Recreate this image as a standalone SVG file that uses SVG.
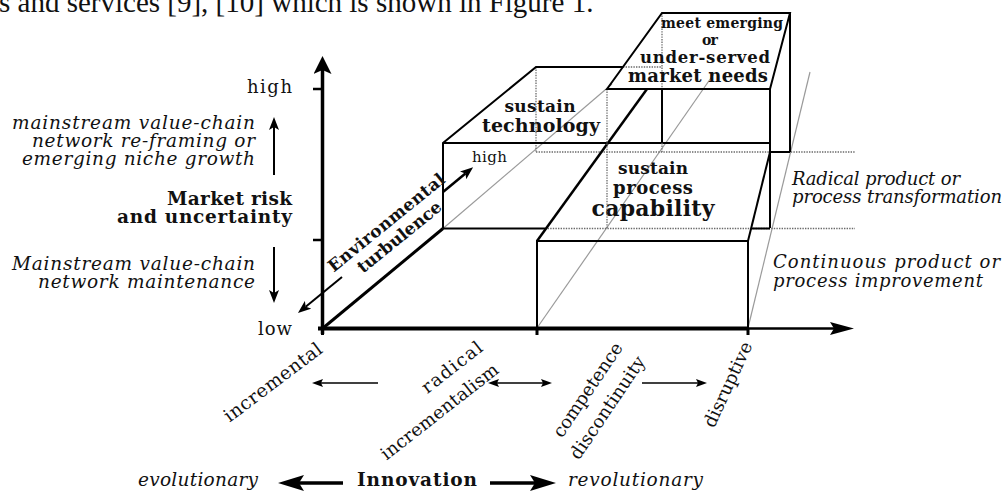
<svg xmlns="http://www.w3.org/2000/svg" width="1005" height="492" viewBox="0 0 1005 492">
<defs>
<style>
.t{font-family:"DejaVu Serif","Liberation Serif",serif;fill:#111}
.i{font-style:italic}
.b{font-weight:bold}
.ln{stroke:#000;fill:none;stroke-width:2}
.bd{stroke:#000;fill:none;stroke-width:2.5}
.dot{stroke:#6a6a6a;fill:none;stroke-width:1.3;stroke-dasharray:1.4 1.2}
.thin{stroke:#9a9a9a;fill:none;stroke-width:1.2}
.ar{stroke:#000;fill:none}
</style>
<marker id="mAxV" markerUnits="userSpaceOnUse" markerWidth="18" markerHeight="18" viewBox="0 0 18 18" refX="4" refY="9" orient="auto"><path d="M0,0 L18,9 L0,18 L4,9 z" fill="#000"/></marker>
<marker id="mAxH" markerUnits="userSpaceOnUse" markerWidth="24" markerHeight="13" viewBox="0 0 24 13" refX="4" refY="6.5" orient="auto"><path d="M0,0 L24,6.5 L0,13 L4,6.5 z" fill="#000"/></marker>
<marker id="mSm" markerUnits="userSpaceOnUse" markerWidth="13" markerHeight="10" viewBox="0 0 13 10" refX="3" refY="5" orient="auto"><path d="M0,0 L13,5 L0,10 L3,5 z" fill="#000"/></marker>
<marker id="mTh" markerUnits="userSpaceOnUse" markerWidth="11" markerHeight="8" viewBox="0 0 11 8" refX="2" refY="4" orient="auto-start-reverse"><path d="M0,0 L11,4 L0,8 L2,4 z" fill="#000"/></marker>
<marker id="mBig" markerUnits="userSpaceOnUse" markerWidth="26" markerHeight="16" viewBox="0 0 26 16" refX="5" refY="8" orient="auto"><path d="M0,0 L26,8 L0,16 L5,8 z" fill="#000"/></marker>
</defs>

<text x="-1" y="12" font-family="Liberation Serif, serif" font-size="29" fill="#111">s and services [9], [10] which is shown in Figure 1.</text>

<g id="perspective-lines">
<path class="thin" d="M443,228.5 L612,84"/>
<path class="thin" d="M537,328 L713,75"/>
<path class="thin" d="M748,328 L810,72"/>
</g>

<g id="box-sustain-technology">
<path class="dot" d="M536,67 V152 M623,67 H662"/>
<path class="ln" d="M443,228.5 V143 L536,67 H623"/>
<path class="ln" d="M443,228.5 H545"/>
<path class="ln" d="M443,143 H770"/>
<text class="t b" x="540" y="112" font-size="17" text-anchor="middle" textLength="71" lengthAdjust="spacing">sustain</text>
<text class="t b" x="541" y="132" font-size="19" text-anchor="middle" textLength="118" lengthAdjust="spacing">technology</text>
</g>

<g id="box-sustain-process">
<path class="dot" d="M536,152 H855 M545,228.5 H855"/>
<path class="ln" d="M537,328 V241 H748 V328"/>
<path class="bd" d="M537,241 L647,89"/>
<path class="ln" d="M748,241 L770,152"/>
<path class="ln" d="M751,228.5 H770"/>
<text class="t b" x="653" y="174" font-size="17" text-anchor="middle" textLength="70" lengthAdjust="spacing">sustain</text>
<text class="t b" x="653" y="194" font-size="18" text-anchor="middle" textLength="80" lengthAdjust="spacing">process</text>
<text class="t b" x="653" y="216" font-size="22" text-anchor="middle" textLength="123" lengthAdjust="spacing">capability</text>
</g>

<g id="box-market-needs">
<path class="dot" d="M662,13 V89 M662,143 V152 M607,89 V228"/>
<path class="ln" d="M607,89 L662,13 H790 L770,89 Z"/>
<path class="ln" d="M770,89 V228 M790,13 V152 M770,152 H790 M662,89 V143"/>
<text class="t b" x="722" y="28" font-size="14" text-anchor="middle" textLength="122" lengthAdjust="spacing">meet emerging</text>
<text class="t b" x="710" y="45" font-size="14" text-anchor="middle" textLength="16" lengthAdjust="spacing">or</text>
<text class="t b" x="705" y="63" font-size="16.5" text-anchor="middle" textLength="130" lengthAdjust="spacing">under-served</text>
<text class="t b" x="698" y="82" font-size="18" text-anchor="middle" textLength="140" lengthAdjust="spacing">market needs</text>
</g>

<g id="axes">
<line x1="322.5" y1="334" x2="322.5" y2="70" stroke="#000" stroke-width="3.5" marker-end="url(#mAxV)"/>
<path d="M313,89 H322 M313,240 H322" stroke="#000" stroke-width="2.5"/>
<line x1="318" y1="328.5" x2="748" y2="328.5" stroke="#000" stroke-width="4"/>
<line x1="748" y1="328.5" x2="834" y2="328.5" stroke="#000" stroke-width="2.5" marker-end="url(#mAxH)"/>
<path d="M322.5,328 V335 M537,328 V335 M748,328 V335" stroke="#000" stroke-width="3"/>
<line x1="322.5" y1="328.5" x2="443" y2="228.5" stroke="#000" stroke-width="3"/>
</g>

<g id="connectors">
<line class="ar" x1="274" y1="175" x2="274" y2="127" stroke-width="2" marker-end="url(#mSm)"/>
<line class="ar" x1="274" y1="247" x2="274" y2="293" stroke-width="2" marker-end="url(#mSm)"/>
<line class="ar" x1="342" y1="277" x2="305.7" y2="306.7" stroke-width="2" marker-end="url(#mSm)"/>
<line class="ar" x1="443" y1="192" x2="465.4" y2="173.5" stroke-width="2.5" marker-end="url(#mSm)"/>
<line class="ar" x1="378" y1="383" x2="321" y2="383" stroke-width="1.6" marker-end="url(#mTh)"/>
<line class="ar" x1="497" y1="383" x2="543" y2="383" stroke-width="1.6" marker-start="url(#mTh)" marker-end="url(#mTh)"/>
<line class="ar" x1="642" y1="383" x2="698" y2="383" stroke-width="1.6" marker-end="url(#mTh)"/>
<line class="ar" x1="343" y1="483" x2="299" y2="483" stroke-width="3.5" marker-end="url(#mBig)"/>
<line class="ar" x1="490" y1="483" x2="535" y2="483" stroke-width="3.5" marker-end="url(#mBig)"/>
</g>

<g id="risk-labels">
<text class="t" x="292" y="93" font-size="18" text-anchor="end" textLength="45" lengthAdjust="spacing">high</text>
<text class="t i" x="255" y="129" font-size="18.5" text-anchor="end" textLength="243" lengthAdjust="spacing">mainstream value-chain</text>
<text class="t i" x="255" y="147" font-size="18.5" text-anchor="end" textLength="223" lengthAdjust="spacing">network re-framing or</text>
<text class="t i" x="255" y="165" font-size="18.5" text-anchor="end" textLength="233" lengthAdjust="spacing">emerging niche growth</text>
<text class="t b" x="292" y="205" font-size="18.5" text-anchor="end" textLength="125" lengthAdjust="spacing">Market risk</text>
<text class="t b" x="292" y="223" font-size="18.5" text-anchor="end" textLength="175" lengthAdjust="spacing">and uncertainty</text>
<text class="t i" x="255" y="270" font-size="18.5" text-anchor="end" textLength="243" lengthAdjust="spacing">Mainstream value-chain</text>
<text class="t i" x="255" y="288" font-size="18.5" text-anchor="end" textLength="217" lengthAdjust="spacing">network maintenance</text>
<text class="t" x="292" y="335" font-size="18" text-anchor="end" textLength="34" lengthAdjust="spacing">low</text>
</g>

<g id="turbulence-labels">
<text class="t b" transform="translate(390,227) rotate(-39)" font-size="17" text-anchor="middle" textLength="145" lengthAdjust="spacing">Environmental</text>
<text class="t b" transform="translate(403,241.4) rotate(-39)" font-size="17" text-anchor="middle" textLength="103" lengthAdjust="spacing">turbulence</text>
<text class="t" x="472" y="162" font-size="15" textLength="35" lengthAdjust="spacing" fill="#222">high</text>
</g>

<g id="transformation-labels">
<text class="t i" x="792" y="185" font-size="18" textLength="168" lengthAdjust="spacing">Radical product or</text>
<text class="t i" x="792" y="203" font-size="18" textLength="210" lengthAdjust="spacing">process transformation</text>
<text class="t i" x="773" y="268" font-size="18" textLength="227" lengthAdjust="spacing">Continuous product or</text>
<text class="t i" x="773" y="287" font-size="18" textLength="210" lengthAdjust="spacing">process improvement</text>
</g>

<g id="innovation-labels">
<text class="t" transform="translate(276.6,387.3) rotate(-37)" font-size="18.5" text-anchor="middle" textLength="118" lengthAdjust="spacing">incremental</text>
<text class="t" transform="translate(484,350) rotate(-38)" font-size="18" text-anchor="end" textLength="72" lengthAdjust="spacing">radical</text>
<text class="t" transform="translate(500,372) rotate(-38)" font-size="18" text-anchor="end" textLength="144" lengthAdjust="spacing">incrementalism</text>
<text class="t" transform="translate(592.7,393.2) rotate(-56)" font-size="18" text-anchor="middle" textLength="110" lengthAdjust="spacing">competence</text>
<text class="t" transform="translate(612.4,411) rotate(-56)" font-size="18" text-anchor="middle" textLength="120" lengthAdjust="spacing">discontinuity</text>
<text class="t" transform="translate(733.4,387) rotate(-65)" font-size="18" text-anchor="middle" textLength="92" lengthAdjust="spacing">disruptive</text>
<text class="t i" x="138" y="486" font-size="18.5" textLength="120" lengthAdjust="spacing">evolutionary</text>
<text class="t b" x="357" y="486" font-size="18.5" textLength="120" lengthAdjust="spacing">Innovation</text>
<text class="t i" x="568" y="486" font-size="18.5" textLength="135" lengthAdjust="spacing">revolutionary</text>
</g>
</svg>
